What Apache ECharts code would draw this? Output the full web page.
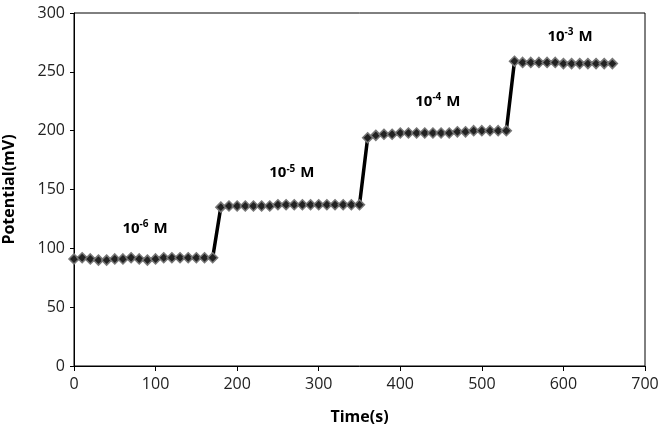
<!DOCTYPE html>
<html>
<head>
<meta charset="utf-8">
<script src="https://cdn.jsdelivr.net/npm/echarts@6/dist/echarts.min.js"></script>
<style>
  html, body { margin: 0; padding: 0; background: #fff; }
  #main { width: 658px; height: 434px; }
</style>
</head>
<body>
<div id="main"></div>
<script>
// time (s), one reading every 10 s
var times = [];
for (var t = 0; t <= 660; t += 10) times.push(t);

// potential (mV), per concentration step
var step6 = [91, 92, 91, 90, 90, 91, 91, 92, 91, 90, 91, 92, 92, 92, 92, 92, 92, 92];        // 0..170
var step5 = [135, 136, 136, 136, 136, 136, 136, 137, 137, 137, 137, 137, 137, 137, 137, 137, 137, 137]; // 180..350
var step4 = [194, 196, 197, 197, 198, 198, 198, 198, 198, 198, 198, 199, 199, 200, 200, 200, 200, 200]; // 360..530
var step3 = [259, 258, 258, 258, 258, 258, 257, 257, 257, 257, 257, 257, 257];              // 540..660

var potential = step6.concat(step5, step4, step3);

// label text and where it sits (data coords)
var labels = [
  { exp: '-6', at: [87, 117] },
  { exp: '-5', at: [267, 164] },
  { exp: '-4', at: [446, 225] },
  { exp: '-3', at: [608, 280] }
];

var pts = times.map(function (t, i) { return [t, potential[i]]; });

var chart = echarts.init(document.getElementById('main'));
var option = {
  animation: false,
  grid: {
    left: 74, right: 13, top: 13, bottom: 68,
    outerBoundsMode: 'none', containLabel: false,
    show: true, borderColor: '#000', borderWidth: 1, backgroundColor: 'transparent'
  },
  xAxis: {
    type: 'value', min: 0, max: 700, interval: 100,
    name: 'Time(s)', nameLocation: 'middle', nameGap: 43,
    nameTextStyle: { fontFamily: 'Open Sans', fontWeight: 'bold', fontSize: 16, color: '#000' },
    axisLine: { lineStyle: { color: '#000', width: 1 } },
    axisTick: { show: true, length: 5, lineStyle: { color: '#000' } },
    axisLabel: { fontFamily: 'Open Sans', fontSize: 16, color: '#222', margin: 10 },
    splitLine: { show: false }
  },
  yAxis: {
    type: 'value', min: 0, max: 300, interval: 50,
    name: 'Potential(mV)', nameLocation: 'middle', nameGap: 57, nameRotate: 90,
    nameTextStyle: { fontFamily: 'Open Sans', fontWeight: 'bold', fontSize: 16, color: '#000' },
    axisLine: { show: true, lineStyle: { color: '#000', width: 1 } },
    axisTick: { show: true, length: 4, lineStyle: { color: '#000' } },
    axisLabel: { fontFamily: 'Open Sans', fontSize: 16, color: '#222', margin: 9 },
    splitLine: { show: false }
  },
  series: [{
    type: 'line',
    data: pts,
    symbol: 'diamond',
    symbolSize: 10,
    lineStyle: { color: '#000', width: 3.5 },
    itemStyle: { color: '#222', borderColor: '#777', borderWidth: 1.5 },
    markPoint: {
      symbol: 'circle', symbolSize: 0,
      label: {
        show: true,
        position: 'inside',
        formatter: function (p) { return '{b|10}{s|' + p.data.exp + '}{b| M}'; },
        rich: {
          b: { fontFamily: 'Open Sans', fontWeight: 'bold', fontSize: 15, color: '#000' },
          s: { fontFamily: 'Open Sans', fontWeight: 'bold', fontSize: 10, color: '#000', verticalAlign: 'top', padding: [0, 1, 8, 0] }
        }
      },
      data: labels.map(function (l) { return { coord: l.at, exp: l.exp }; })
    }
  }]
};
chart.setOption(option);
</script>
</body>
</html>
